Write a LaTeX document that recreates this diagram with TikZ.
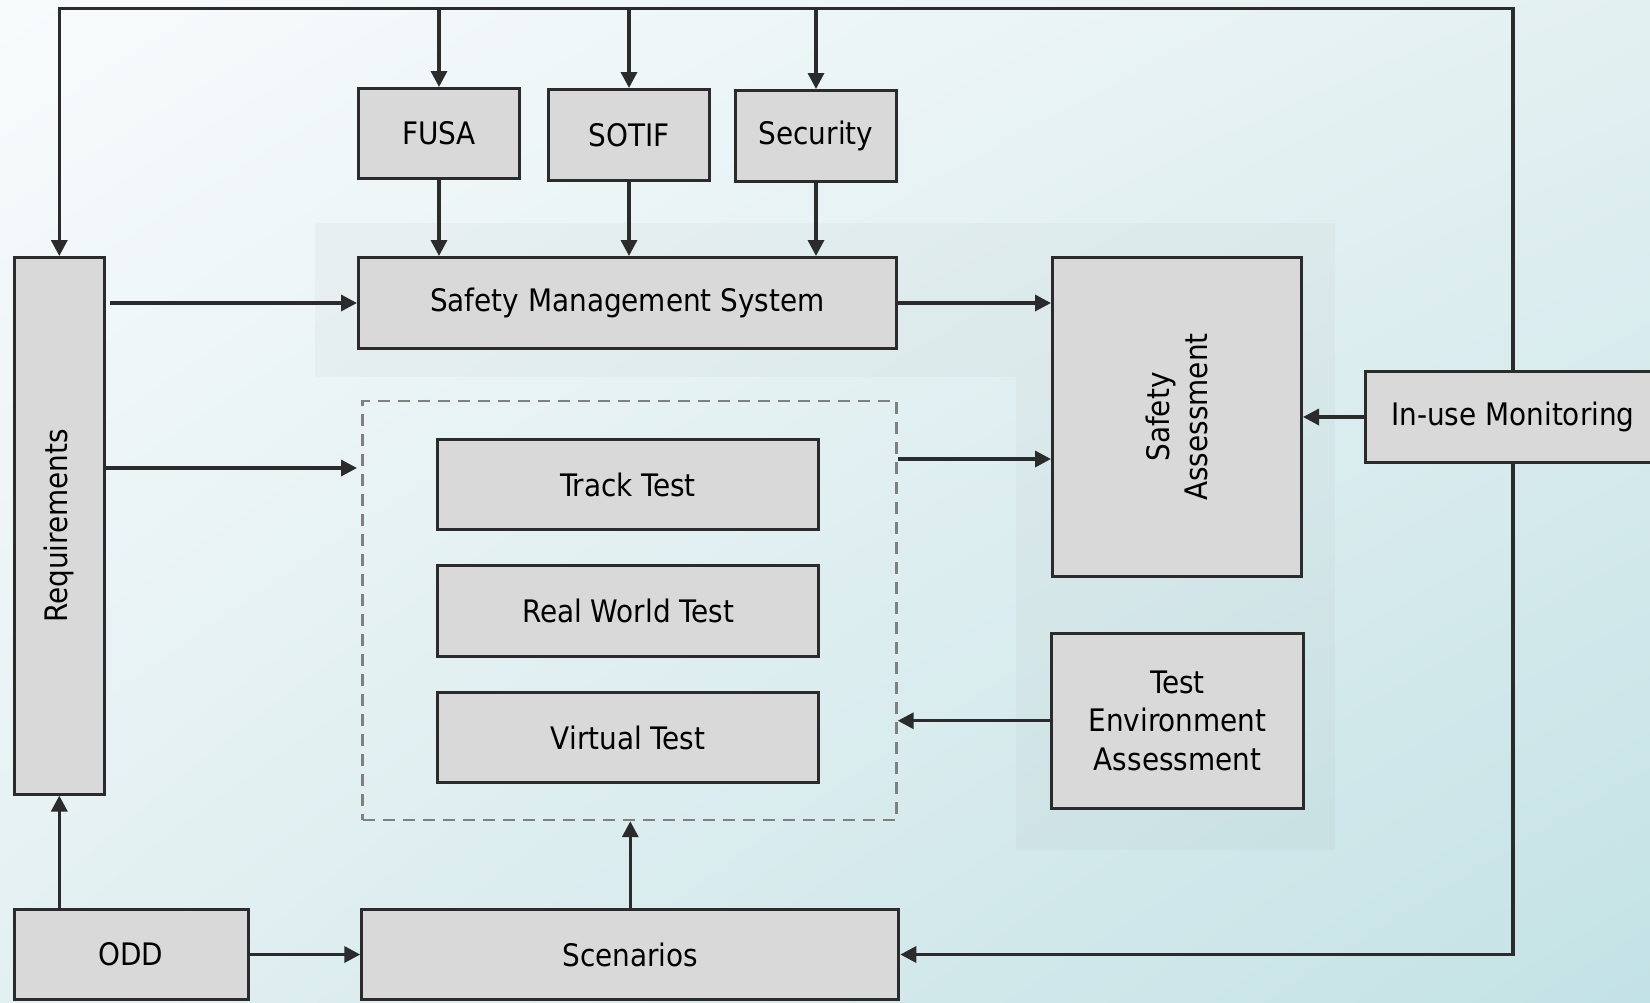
\documentclass[tikz,border=0pt]{standalone}
\usepackage{fontspec}
\setmainfont{DejaVu Sans Condensed}
\usetikzlibrary{arrows.meta,shadings}
\definecolor{linec}{HTML}{2B2B2B}
\definecolor{boxgray}{HTML}{D9D9D9}
\definecolor{dashgray}{HTML}{808080}
\definecolor{bgtl}{HTML}{F8FBFC}
\definecolor{bgmid}{HTML}{E3F0F2}
\definecolor{bgbr}{HTML}{C3E2E5}

\begin{document}
\begin{tikzpicture}[x=0.5pt,y=-0.5pt,
  box/.style={draw=linec,line width=1.5pt,fill=boxgray,inner sep=0pt,
    align=center,font=\fontsize{15.5}{19.3}\selectfont},
  conn/.style={draw=linec,line width=1.7pt,-{Triangle[length=8pt,width=8pt]}},
  region/.style={fill=gray,opacity=0.05}]
  \useasboundingbox (0,0) rectangle (1650,1002);
  \clip (0,0) rectangle (1650,1002);

  %background
  \shade[upper left=bgtl,upper right=bgmid,lower left=bgmid,lower right=bgbr]
    (0,0) rectangle (1650,1002);
  \fill[region] (314.5,223) rectangle (1015.5,377);
  \fill[region] (1015.5,223) rectangle (1335,850);

  %boxes
  \node[box,minimum width=80.5pt,minimum height=45pt] (fusa) at (439,133.5) {FUSA};
  \node[box,minimum width=80.5pt,minimum height=45.5pt] (sotif) at (629,135) {SOTIF};
  \node[box,minimum width=80.5pt,minimum height=45.5pt] (sec) at (816,136) {Security};
  \node[box,minimum width=269pt,minimum height=45.5pt] (sms) at (627.5,303) {Safety Management System};
  \node[box,rotate=90,minimum width=268.25pt,minimum height=45.2pt] (req) at (59.3,525.8) {Requirements};
  \node[draw=dashgray,line width=1.2pt,dash pattern=on 6pt off 4pt,
    minimum width=267pt,minimum height=209.5pt] (tests) at (629.5,610.5) {};
  \node[box,minimum width=190.5pt,minimum height=45pt] (track) at (628,484.5) {Track Test};
  \node[box,minimum width=190.5pt,minimum height=45.5pt] (real) at (628,611) {Real World Test};
  \node[box,minimum width=190.5pt,minimum height=45pt] (virt) at (628,737.5) {Virtual Test};
  \node[box,rotate=90,minimum width=159.5pt,minimum height=124.5pt] (sa) at (1177,417) {Safety\\Assessment};
  \node[box,minimum width=126pt,minimum height=87.75pt] (tea) at (1177.5,720.75) {Test\\Environment\\Assessment};
  \node[box,minimum width=147.5pt,minimum height=45.5pt] (mon) at (1513,417) {In-use Monitoring};
  \node[box,minimum width=117pt,minimum height=45pt] (odd) at (131,954.5) {ODD};
  \node[box,minimum width=268.5pt,minimum height=45pt] (scen) at (630.3,954.5) {Scenarios};

  \coordinate (topline) at (0,8.5);
  \coordinate (reqin) at (357,468);
  \coordinate (sain) at (1051,459);

  %feedback loop over the top
  \draw[conn] (mon.north) -- (mon.north |- topline) -- (req.east |- topline) -- (req.east);
  \draw[conn] (fusa.north |- topline) -- (fusa.north);
  \draw[conn] (sotif.north |- topline) -- (sotif.north);
  \draw[conn] (sec.north |- topline) -- (sec.north);
  \draw[conn] (mon.south) |- (scen.east);

  \draw[conn] (fusa.south) -- (fusa.south |- sms.north);
  \draw[conn] (sotif.south) -- (sotif.south |- sms.north);
  \draw[conn] (sec.south) -- (sec.south |- sms.north);
  \draw[conn] ([xshift=2pt]req.south |- sms.west) -- (sms.west);
  \draw[conn] (req.south |- reqin) -- (reqin);
  \draw[conn] (sms.east) -- (sa.north |- sms.east);
  \draw[conn] (tests.east |- sain) -- (sain);
  \draw[conn] (tea.west) -- (tests.east |- tea.west);
  \draw[conn] (mon.west) -- (sa.south);
  \draw[conn] (req.west |- odd.north) -- (req.west);
  \draw[conn] (odd.east) -- (scen.west);
  \draw[conn] (scen.north) -- (scen.north |- tests.south);
\end{tikzpicture}
\end{document}
